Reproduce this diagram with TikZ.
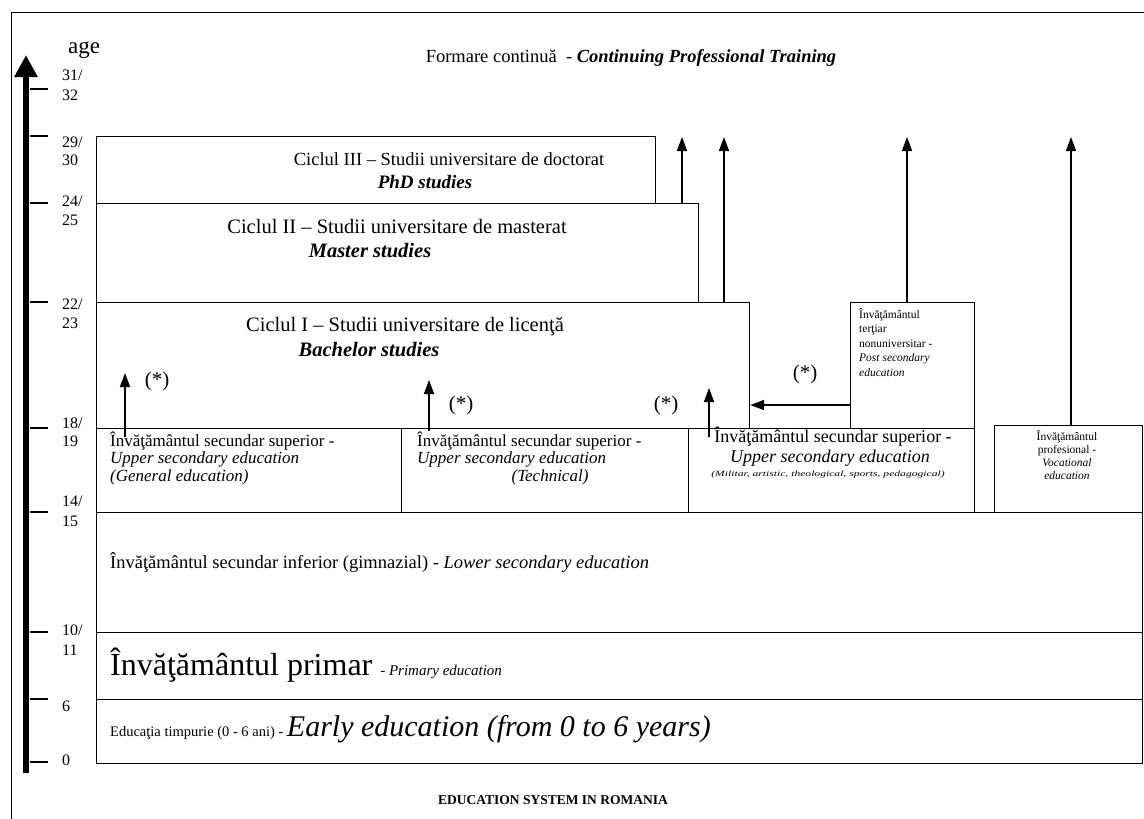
\documentclass[tikz,border=0pt]{standalone}
\usepackage{fontspec}
\setmainfont{Liberation Serif}
\usetikzlibrary{arrows.meta}

\tikzset{
  box/.style={draw, line width=1.2pt, inner sep=0pt, anchor=north west},
  arr/.style={line width=1.6pt, -{Triangle[width=10pt,length=14pt]}},
  tick/.style={line width=1.2pt},
  agelbl/.style={anchor=west, inner sep=0pt, font=\fontsize{16}{18}\selectfont},
  cyc/.style={inner sep=0pt, font=\fontsize{20.5}{22}\selectfont},
  sec/.style={anchor=west, inner sep=0pt, font=\fontsize{17}{18}\selectfont},
  note/.style={inner sep=0pt, font=\fontsize{21}{23}\selectfont}
}

\begin{document}
\begin{tikzpicture}[x=1pt,y=-1pt]
\useasboundingbox (0,0) rectangle (1144,819);
% frame
\draw[line width=0.8pt] (11,819) -- (11,12) -- (1144,12);

% age axis
\coordinate (axbot) at (26,773);
\coordinate (axtop) at (26,55);
\draw[line width=6pt, -{Triangle[width=22pt,length=22pt]}] (axbot) -- (axtop);
\node[inner sep=0pt, font=\fontsize{23}{25}\selectfont] (age) at (84,50) {age};
\foreach \y in {89,136,203,302,428,512,632,699,762}
  \draw[tick] (30,\y) -- (48,\y);
\foreach \y/\t in {75/{31/},95/32,142/{29/},160/30,201/{24/},220/25,304/{22/},323/23,
                   423/{18/},441/19,501/{14/},521/15,630/{10/},650/11,706/6,760/0}
  \node[agelbl] (age\y) at (62,\y) {\t};

% continuing training
\node[cyc, font=\fontsize{18.5}{21}\selectfont] (cpt) at (631,58) {Formare continuă \ - \textbf{\textit{Continuing Professional Training}}};

% university cycles
\node[box, minimum width=559pt, minimum height=67pt] (phd) at (96,136) {};
\node[box, minimum width=602pt, minimum height=99pt] (master) at (96,203) {};
\node[box, minimum width=653pt, minimum height=126pt] (bach) at (96,302) {};
\node[cyc, font=\fontsize{18.5}{21}\selectfont] (phdA) at (449,159) {Ciclul III – Studii universitare de doctorat};
\node[cyc, font=\fontsize{19}{21}\selectfont] (phdB) at (425,182) {\textbf{\textit{PhD studies}}};
\node[cyc] (masA) at (397,226) {Ciclul II – Studii universitare de masterat};
\node[cyc] (masB) at (370,251) {\textbf{\textit{Master studies}}};
\node[cyc] (bacA) at (405,327) {Ciclul I -- Studii universitare de licenţă};
\node[cyc] (bacB) at (369,350) {\textbf{\textit{Bachelor studies}}};

% upper secondary
\node[box, minimum width=305pt, minimum height=84pt] (usGen) at (96,428) {};
\node[box, minimum width=287pt, minimum height=84pt] (usTech) at (401,428) {};
\node[box, minimum width=286pt, minimum height=84pt] (usArt) at (688,428) {};
\node[sec] (usGenA) at (110,441) {Învăţământul secundar superior -};
\node[sec] (usGenB) at (110,459) {\textit{Upper secondary education}};
\node[sec] (usGenC) at (110,477) {\textit{(General education)}};
\node[sec] (usTechA) at (417,441) {Învăţământul secundar superior -};
\node[sec] (usTechB) at (417,459) {\textit{Upper secondary education}};
\node[sec, anchor=center] (usTechC) at (550,477) {\textit{(Technical)}};
\node[sec, anchor=center, font=\fontsize{18}{20}\selectfont] (usArtA) at (833,437) {Învăţământul secundar superior -};
\node[sec, anchor=center, font=\fontsize{18}{20}\selectfont] (usArtB) at (830,458) {\textit{Upper secondary education}};
\node[inner sep=0pt, font=\fontsize{8}{9}\selectfont] (usArtC) at (828,475)
  {\scalebox{1.45}[1]{\textit{(Militar, artistic, theological, sports, pedagogical)}}};

% post secondary and vocational
\node[box, minimum width=124pt, minimum height=126pt] (tert) at (850,302) {};
\node[anchor=north west, inner sep=0pt, align=left, font=\fontsize{11.5}{14.5}\selectfont] (tertT) at (859,308)
  {Învăţământul\\terţiar\\nonuniversitar -\\\textit{Post secondary}\\\textit{education}};
\node[box, minimum width=148pt, minimum height=87pt] (voc) at (994,425) {};
\node[inner sep=0pt, align=center, font=\fontsize{11.5}{13}\selectfont] (vocT) at (1067,455)
  {Învăţământul\\profesional -\\\textit{Vocational}\\\textit{education}};

% lower secondary, primary, early
\node[box, minimum width=1046pt, minimum height=120pt] (lower) at (96,512) {};
\node[box, minimum width=1046pt, minimum height=67pt] (prim) at (96,632) {};
\node[box, minimum width=1046pt, minimum height=64pt] (early) at (96,699) {};
\node[sec, font=\fontsize{18.5}{20}\selectfont] (lowerT) at (110,563)
  {Învăţământul secundar inferior (gimnazial) - \textit{Lower secondary education}};
\node[anchor=west, inner sep=0pt, font=\fontsize{32}{34}\selectfont] (primT) at (110,665)
  {Învăţământul primar {\fontsize{15}{17}\selectfont - \textit{Primary education}}};
\node[sec, font=\fontsize{14.5}{17}\selectfont] (earlyT) at (110,729)
  {Educaţia timpurie (0 - 6 ani) - {\fontsize{30}{32}\selectfont\textit{Early education (from 0 to 6 years)}}};

% arrows up to continuing training
\coordinate (upA) at (682,137);
\coordinate (upB) at (724,137);
\coordinate (upC) at (907,137);
\coordinate (upD) at (1071,137);
\draw[arr] (upA |- master.north) -- (upA);
\draw[arr] (upB |- bach.north) -- (upB);
\draw[arr] (upC |- tert.north) -- (upC);
\draw[arr] (upD |- voc.north) -- (upD);

% access to bachelor studies
\coordinate (s1) at (125,373);
\coordinate (s2) at (429,380);
\coordinate (s3) at (709,388);
\draw[arr] (s1 |- usGen.north) ++(0,9) -- (s1);
\draw[arr] (s2 |- usTech.north) ++(0,3) -- (s2);
\draw[arr] (s3 |- usArt.north) ++(0,9) -- (s3);
\draw[arr] (tert.west |- 0,405) -- (bach.east |- 0,405);
\node[note] (st1) at (157,381) {(*)};
\node[note] (st2) at (461,405) {(*)};
\node[note] (st3) at (666,405) {(*)};
\node[note] (st4) at (805,374) {(*)};

% title
\node[inner sep=0pt, font=\fontsize{13.5}{15}\selectfont\bfseries] (title) at (553,800) {EDUCATION SYSTEM IN ROMANIA};
\end{tikzpicture}
\end{document}
